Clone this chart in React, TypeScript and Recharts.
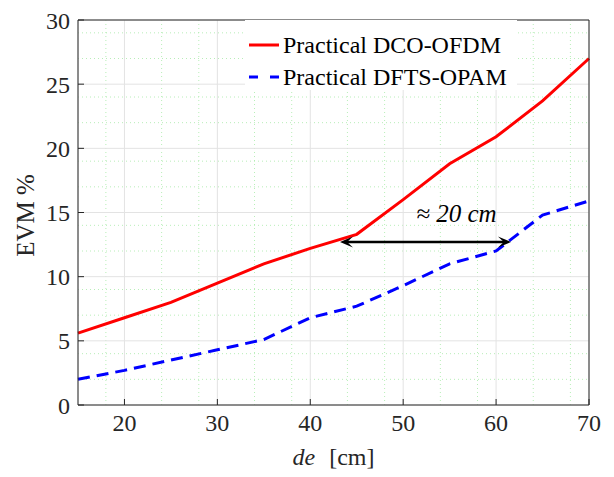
import { LineChart, Line, XAxis, YAxis, CartesianGrid, ReferenceLine } from "recharts";

const distances = [15, 20, 25, 30, 35, 40, 45, 50, 55, 60, 65, 70];
const dcoOfdm = [5.6, 6.8, 8.0, 9.5, 11.0, 12.2, 13.3, 16.0, 18.8, 20.9, 23.7, 27.0];
const dftsOpam = [2.0, 2.7, 3.5, 4.3, 5.1, 6.8, 7.7, 9.3, 11.0, 12.0, 14.8, 15.9];
const seriesNames = ["Practical DCO-OFDM", "Practical DFTS-OPAM"];

const xTicks = [20, 30, 40, 50, 60, 70];
const yTicks = [0, 5, 10, 15, 20, 25, 30];
const xMinor = [16, 18, 22, 24, 26, 28, 32, 34, 36, 38, 42, 44, 46, 48, 52, 54, 56, 58, 62, 64, 66, 68];
const yMinor = [1, 2, 3, 4, 6, 7, 8, 9, 11, 12, 13, 14, 16, 17, 18, 19, 21, 22, 23, 24, 26, 27, 28, 29];

const arrowFrom = 43.2;
const arrowTo = 61.6;
const arrowLevel = 12.7;

const data = distances.map((d, i) => ({ d, dco: dcoOfdm[i], dfts: dftsOpam[i] }));

const FONT = '"Liberation Serif", "Times New Roman", serif';
const AXIS = "#262626";

const ArrowShape = (props: any) => {
  const { x1, y1, x2, y2 } = props;
  const L = 13;
  const W = 5.5;
  const head = (tx: number, dir: number) =>
    `M${tx},${y1} L${tx - dir * L},${y1 - W} L${tx - dir * L * 0.55},${y1} L${tx - dir * L},${y1 + W} Z`;
  return (
    <g>
      <line x1={x1 + 6} y1={y1} x2={x2 - 6} y2={y2} stroke="#000" strokeWidth={2.5} />
      <path d={head(x1, -1)} fill="#000" />
      <path d={head(x2, 1)} fill="#000" />
      <text
        x={(x1 + x2) / 2 + 31}
        y={y1 - 20}
        textAnchor="middle"
        fontFamily={FONT}
        fontStyle="italic"
        fontSize={25}
        fill="#000"
      >
        ≈ 20 cm
      </text>
    </g>
  );
};

// legend drawn as an overlay so it does not eat plot height
const LegendBox = () => (
  <div style={{ position: "absolute", left: 245, top: 20, width: 272, height: 70, background: "#fff" }}>
    <svg width={272} height={70} style={{ overflow: "visible" }}>
      <line x1={4} y1={25} x2={34} y2={25} stroke="#ff0000" strokeWidth={3} />
      <text x={38} y={33} fontFamily={FONT} fontSize={24} fill="#000">{seriesNames[0]}</text>
      <line x1={4} y1={57} x2={34} y2={57} stroke="#0000ff" strokeWidth={3} strokeDasharray="9 12" />
      <text x={38} y={65} fontFamily={FONT} fontSize={24} fill="#000">{seriesNames[1]}</text>
    </svg>
  </div>
);

export default function App() {
  return (
    <div style={{ position: "absolute", left: 0, top: 0, width: 614, height: 477, background: "#fff" }}>
      <LineChart
        width={614}
        height={477}
        data={data}
        margin={{ top: 19, right: 24, left: 0, bottom: 0 }}
        style={{ fontFamily: FONT }}
      >
        <CartesianGrid
          xAxisId="b"
          yAxisId="l"
          verticalValues={xMinor}
          horizontalValues={yMinor}
          stroke="#a6eaa6"
          strokeDasharray="1 3"
          strokeWidth={0.8}
        />
        <CartesianGrid xAxisId="b" yAxisId="l" stroke="#e3e3e3" strokeWidth={1} />
        <XAxis
          xAxisId="b"
          dataKey="d"
          type="number"
          domain={[15, 70]}
          ticks={xTicks}
          height={72}
          tickSize={-6}
          tickMargin={15}
          stroke={AXIS}
          tick={{ fill: "#262626", fontSize: 24, fontFamily: FONT }}
          label={{
            content: ({ viewBox }: any) => (
              <text
                x={viewBox.x + viewBox.width / 2}
                y={viewBox.y + 60}
                textAnchor="middle"
                fontFamily={FONT}
                fontSize={24}
                fill="#262626"
              >
                <tspan fontStyle="italic">de</tspan>
                <tspan dx={14}>[cm]</tspan>
              </text>
            ),
          }}
        />
        <XAxis
          xAxisId="t"
          dataKey="d"
          type="number"
          orientation="top"
          domain={[15, 70]}
          ticks={xTicks}
          height={1}
          tickSize={-6}
          tick={false}
          stroke={AXIS}
        />
        <YAxis
          yAxisId="l"
          type="number"
          domain={[0, 30]}
          ticks={yTicks}
          width={78}
          tickSize={-6}
          tickMargin={14}
          stroke={AXIS}
          tick={{ fill: "#262626", fontSize: 24, fontFamily: FONT }}
          label={{
            content: ({ viewBox }: any) => {
              const cx = 25;
              const cy = viewBox.y + viewBox.height / 2 + 3;
              return (
                <text
                  x={cx}
                  y={cy}
                  transform={`rotate(-90, ${cx}, ${cy})`}
                  textAnchor="middle"
                  dominantBaseline="central"
                  fontFamily={FONT}
                  fontSize={25}
                  fill="#262626"
                >
                  EVM %
                </text>
              );
            },
          }}
        />
        <YAxis
          yAxisId="r"
          orientation="right"
          type="number"
          domain={[0, 30]}
          ticks={yTicks}
          width={1}
          tickSize={-6}
          tick={false}
          stroke={AXIS}
        />
        <Line
          xAxisId="b"
          yAxisId="l"
          type="linear"
          dataKey="dco"
          name={seriesNames[0]}
          stroke="#ff0000"
          strokeWidth={3}
          dot={false}
          isAnimationActive={false}
        />
        <Line
          xAxisId="b"
          yAxisId="l"
          type="linear"
          dataKey="dfts"
          name={seriesNames[1]}
          stroke="#0000ff"
          strokeWidth={3}
          strokeDasharray="12 7"
          dot={false}
          isAnimationActive={false}
        />
        <ReferenceLine
          xAxisId="b"
          yAxisId="l"
          segment={[
            { x: arrowFrom, y: arrowLevel },
            { x: arrowTo, y: arrowLevel },
          ]}
          shape={ArrowShape}
          ifOverflow="visible"
        />
      </LineChart>
      <LegendBox />
    </div>
  );
}
